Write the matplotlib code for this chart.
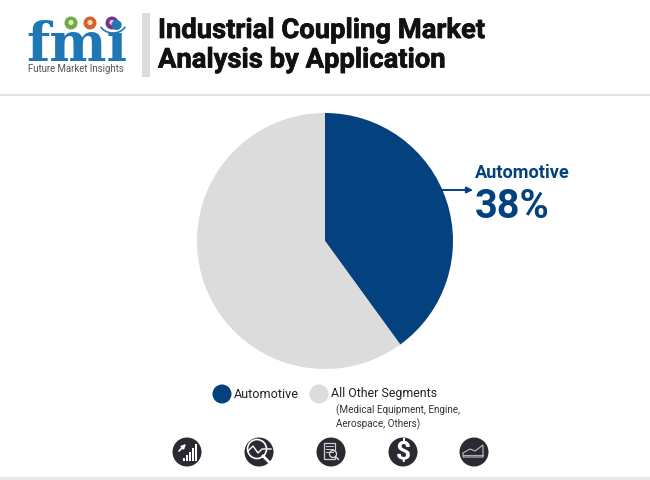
import matplotlib
matplotlib.use('Agg')
import matplotlib.pyplot as plt
import matplotlib.patheffects as pe
from matplotlib.patches import Circle, Rectangle, Arc, Polygon

plt.rcParams['font.family'] = ['Roboto', 'DejaVu Sans']

# Data
segments = ['Automotive', 'All Other Segments']
pie_values = [40, 60]
callout_label = 'Automotive'
callout_value = '38%'
sub_note = '(Medical Equipment, Engine,\nAerospace, Others)'
title_lines = ['Industrial Coupling Market', 'Analysis by Application']

BLUE = '#03417f'
GREY = '#dcdcdc'
DARK = '#2a2a33'
LOGO = '#1f78b4'
colors = [BLUE, GREY]

W, H = 650, 480
fig = plt.figure(figsize=(W / 100, H / 100), dpi=100, facecolor='white')

# Full figure axes working in pixels, for header, legend and icons
ax = fig.add_axes([0, 0, 1, 1])
ax.set_xlim(0, W)
ax.set_ylim(H, 0)
ax.axis('off')

# Header, the stroke makes the bold a little heavier like the reference
ax.add_patch(Rectangle((142, 13), 8, 64, color=GREY, lw=0))
ax.add_patch(Rectangle((0, 94), W, 2, color='#e2e2e2', lw=0))
ax.add_patch(Rectangle((0, 477), W, 3, color='#e8e8e8', lw=0))
heavy = [pe.withStroke(linewidth=0.5, foreground='#111111')]
ax.text(158, 30.5, title_lines[0], fontsize=19.7, fontweight='bold', color='#111111',
        va='center', ha='left', path_effects=heavy)
ax.text(158, 60, title_lines[1], fontsize=19.7, fontweight='bold', color='#111111',
        va='center', ha='left', path_effects=heavy)

# Logo: serif letters cut by white stripes
ax.text(76.5, 61, 'fmi', fontsize=39, fontweight='bold', family='DejaVu Serif', color=LOGO,
        ha='center', va='baseline')
ax.add_patch(Rectangle((105, 14), 25, 19, color='white', lw=0))
for y in range(25, 62, 4):
    ax.add_patch(Rectangle((26, y), 102, 1.3, color='white', lw=0))
ax.add_patch(Arc((113, 21), 28, 24, theta1=25, theta2=155, color=LOGO, lw=1.2))
for (cx, cy), c in zip([(71, 23), (90, 23), (112, 23)], ['#6fae3e', '#d9622b', '#7d2f8e']):
    ax.add_patch(Circle((cx, cy), 6.5, color=c, lw=0))
    ax.add_patch(Circle((cx, cy - 0.5), 2.6, color='white', alpha=0.75, lw=0))
ax.text(76, 68.5, 'Future Market Insights', fontsize=6.9, color='#555555', ha='center', va='center')

# Pie
pie_ax = fig.add_axes([197 / W, 1 - 369 / H, 256 / W, 256 / H])
pie_ax.pie(pie_values, colors=colors, startangle=90, counterclock=False, radius=1,
           wedgeprops={'linewidth': 0})
pie_ax.set_xlim(-1, 1)
pie_ax.set_ylim(-1, 1)

# Callout
ax.annotate('', xy=(473, 190), xytext=(441, 190),
            arrowprops=dict(arrowstyle='-|>', color=BLUE, lw=1.4, mutation_scale=9,
                            shrinkA=0, shrinkB=0), zorder=5)
ax.text(475, 173.5, callout_label, fontsize=13.1, fontweight='bold', color=BLUE, va='center', ha='left')
ax.text(475, 207, callout_value, fontsize=28.5, fontweight='bold', color=BLUE, va='center', ha='left')

# Legend
ax.add_patch(Circle((222, 394), 9.5, color=colors[0], lw=0))
ax.text(234, 394, segments[0], fontsize=9.05, color='#222222', va='center', ha='left')
ax.add_patch(Circle((319, 394), 9.5, color=colors[1], lw=0))
ax.text(331, 394, segments[1], fontsize=8.95, color='#222222', va='center', ha='left')
ax.text(336, 417.5, sub_note, fontsize=7.15, color='#333333', va='center', ha='left', linespacing=1.3)

# Icons
icon_x = [187, 259, 331, 403, 474]
icon_y = 452
for x in icon_x:
    ax.add_patch(Circle((x, icon_y), 14.5, color=DARK, lw=0))

# bars with arrow
x = icon_x[0]
for i, h in enumerate([3, 6, 9, 13, 17]):
    ax.add_patch(Rectangle((x - 4 + i * 3, icon_y + 9 - h), 1.8, h, color='white', lw=0))
ax.annotate('', xy=(x - 1, icon_y - 8), xytext=(x - 8, icon_y - 1),
            arrowprops=dict(arrowstyle='-|>', color='white', lw=1.2, mutation_scale=6, shrinkA=0, shrinkB=0))

# magnifier
x = icon_x[1]
ax.add_patch(Circle((x - 2, icon_y - 3), 9.5, fill=False, ec='white', lw=1.2))
ax.plot([x + 4, x + 12], [icon_y + 4, icon_y + 12], color='white', lw=2)
ax.plot([x - 11, x - 6, x - 1, x + 3, x + 12], [icon_y - 1, icon_y - 6, icon_y + 1, icon_y - 3, icon_y - 3],
        color='white', lw=1)

# document
x = icon_x[2]
ax.add_patch(Rectangle((x - 7, icon_y - 9), 11, 16, fill=False, ec='#d0d0d0', lw=0.9))
for dy in (-6, -3, 0):
    ax.plot([x - 5, x + 2], [icon_y + dy, icon_y + dy], color='#d0d0d0', lw=0.7)
ax.add_patch(Circle((x + 2, icon_y + 2), 3.5, fc=DARK, ec='#e0e0e0', lw=0.9))
ax.plot([x + 4.5, x + 7.5], [icon_y + 4.5, icon_y + 7.5], color='#e0e0e0', lw=1)

# dollar
ax.text(icon_x[3], icon_y, '$', fontsize=19, fontweight='bold', color='white', ha='center', va='center')

# area chart
x = icon_x[4]
ax.add_patch(Polygon([(x - 11, icon_y + 5), (x - 11, icon_y + 1), (x - 4, icon_y - 3), (x + 1, icon_y - 1),
                      (x + 9, icon_y - 7), (x + 9, icon_y + 5)], fill=False, ec='#b0b0b0', lw=0.9))
ax.plot([x - 11, x + 9], [icon_y + 3, icon_y + 3], color='#b0b0b0', lw=0.8)

fig.savefig('out.png', dpi=100)
